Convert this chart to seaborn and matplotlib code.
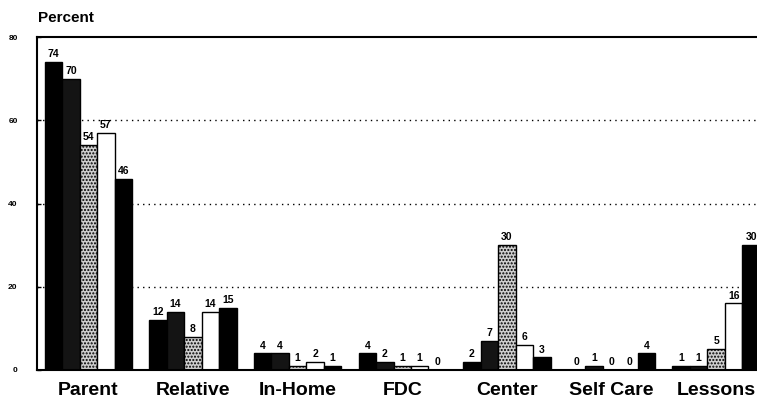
import matplotlib
matplotlib.use("Agg")
import matplotlib.pyplot as plt
import seaborn as sns
import pandas as pd

categories = ["Parent", "Relative", "In-Home", "FDC", "Center", "Self Care", "Lessons"]
groups = ["Group 1", "Group 2", "Group 3", "Group 4", "Group 5"]
values = {
    "Group 1": [74, 12, 4, 4, 2, 0, 1],
    "Group 2": [70, 14, 4, 2, 7, 1, 1],
    "Group 3": [54, 8, 1, 1, 30, 0, 5],
    "Group 4": [57, 14, 2, 1, 6, 0, 16],
    "Group 5": [46, 15, 1, 0, 3, 4, 30],
}
y_ticks = [0, 20, 40, 60, 80]

rows = []
for g in groups:
    for c, v in zip(categories, values[g]):
        rows.append({"category": c, "group": g, "value": v})
df = pd.DataFrame(rows)

sns.set_style("white")
plt.rcParams["font.family"] = ["Liberation Sans", "DejaVu Sans"]
plt.rcParams["text.color"] = "black"
plt.rcParams["xtick.color"] = "black"
plt.rcParams["ytick.color"] = "black"
plt.rcParams["axes.labelcolor"] = "black"

fig = plt.figure(figsize=(7.57, 4.03), dpi=100)
ax = fig.add_axes([0.049, 0.082, 0.98, 0.826])

face = ["#000000", "#141414", "#cfcfcf", "#ffffff", "#000000"]
hatch = [None, None, ".....", None, None]

sns.barplot(data=df, x="category", y="value", hue="group", order=categories,
            hue_order=groups, palette=face, width=0.835, saturation=1,
            edgecolor="black", linewidth=1.0, legend=False, ax=ax)

for cont, h in zip(ax.containers, hatch):
    if h:
        for p in cont:
            p.set_hatch(h)
    ax.bar_label(cont, fmt="%d", padding=2, fontsize=7.5, fontweight="bold",
                 color="black")

ax.set_xlim(-0.49, 6.6)
ax.set_ylim(0, 80)
ax.set_yticks(y_ticks)
ax.set_yticklabels([str(t) for t in y_ticks], fontsize=6, fontweight="bold")
ax.tick_params(axis="y", direction="in", length=3, width=1, pad=14, left=True)
ax.tick_params(axis="x", length=0, labelsize=14, pad=9)
for lbl in ax.get_xticklabels():
    lbl.set_fontweight("bold")
ax.set_xlabel("")
ax.set_ylabel("")

for yv in [20, 40, 60]:
    ax.axhline(yv, color="black", linestyle=(0, (1, 3)), linewidth=1.0, zorder=0)

for side in ["left", "bottom", "top"]:
    ax.spines[side].set_visible(True)
    ax.spines[side].set_color("black")
    ax.spines[side].set_linewidth(1.5)
ax.spines["right"].set_visible(False)

fig.text(0.05, 0.938, "Percent", fontsize=11, fontweight="bold", ha="left",
         va="bottom", color="black")

fig.savefig("out.png", dpi=100)
